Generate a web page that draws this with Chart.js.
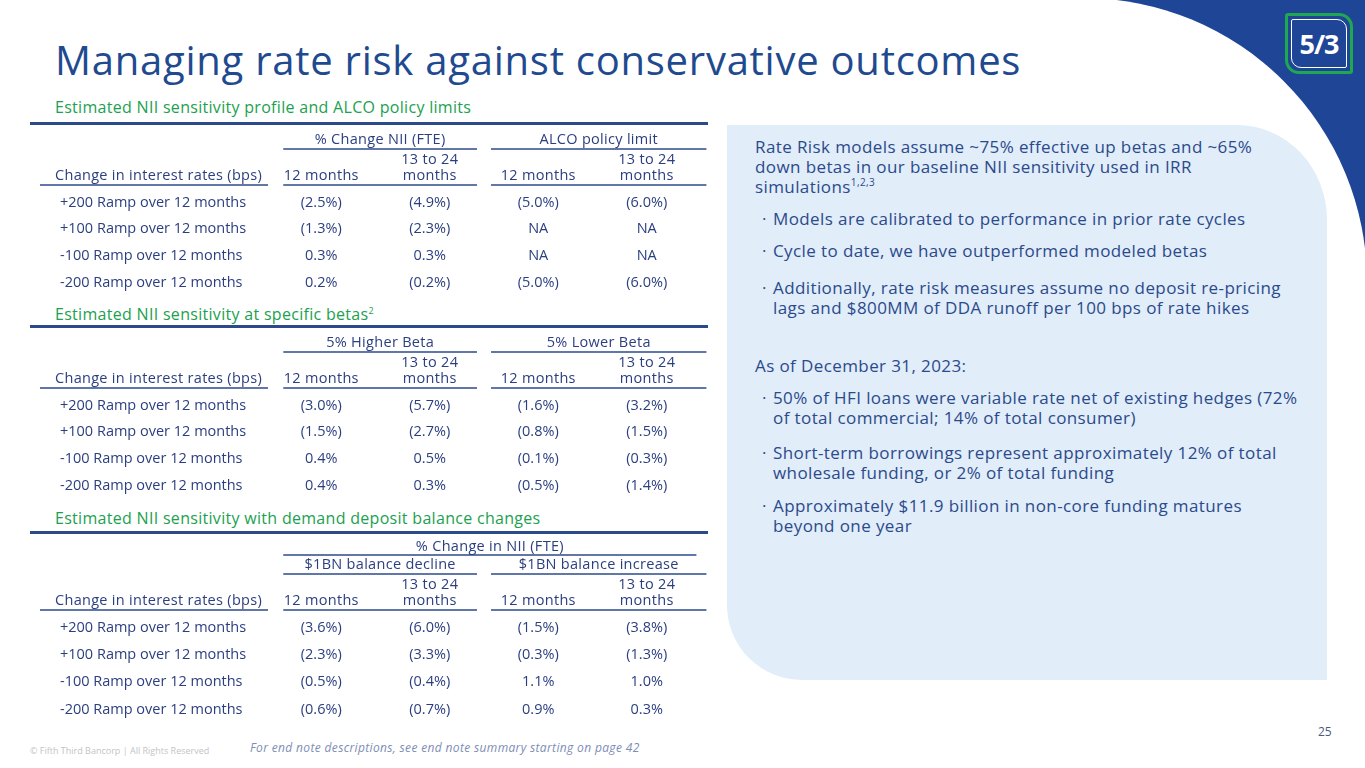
<!DOCTYPE html>
<html>
<head>
<meta charset="utf-8">
<script src="https://cdn.jsdelivr.net/npm/chart.js@4.4.1/dist/chart.umd.min.js"></script>
<style>
  html, body { margin: 0; padding: 0; background: #fff; }
  body { width: 1365px; height: 768px; position: relative; overflow: hidden; font-family: "Open Sans", sans-serif; }
  .abs { position: absolute; }
  #title { left: 55px; top: 40px; font-size: 40px; line-height: 40px; color: #1f4a8f; white-space: nowrap; letter-spacing: 0.75px; }
  .head { left: 55px; font-size: 16px; line-height: 18px; color: #1ba14f; white-space: nowrap; letter-spacing: 0.3px; }
  .head sup { font-size: 9px; }
  .rule { left: 30px; width: 678px; height: 3px; background: #2b4a8b; }
  #panel { left: 727px; top: 125px; width: 600px; height: 555px; background: #e1edf9;
           border-radius: 0 90px 0 75px / 0 95px 0 75px; }
  .ptxt { left: 755px; font-size: 17px; line-height: 20px; color: #2b4a8b; white-space: nowrap; letter-spacing: 0.4px; }
  .ptxt sup { font-size: 10px; line-height: 0; }
  .bul { left: 762px; display: flex; }
  .bul span:first-child { width: 11px; }
  #logo { left: 1285px; top: 13px; width: 62px; height: 55px; border: 3px solid #20a850; background: #1e4596;
          border-radius: 3px 14px 3px 14px; }
  #logo div { position: absolute; left: 3px; top: 3px; right: 3px; bottom: 3px; border: 1.5px solid #fff;
              border-radius: 2px 10px 2px 10px; color: #fff; font: bold 27px/47px "Open Sans"; text-align: center; letter-spacing: -1px; }
  #copy { left: 30px; top: 744px; font-size: 9px; color: #c4c4c4; white-space: nowrap; }
  #note { left: 250px; top: 739px; font-size: 12px; font-style: italic; color: #7d8db5; white-space: nowrap; letter-spacing: 0.35px; }
  #page { left: 1318px; top: 723px; font-size: 12px; color: #4a5a80; }
  canvas { position: absolute; left: 30px; }
</style>
</head>
<body>
<svg class="abs" style="left:0;top:0" width="1365" height="768">
  <rect x="1080" y="0" width="285" height="290" fill="#1e4596"/>
  <circle cx="1083" cy="282" r="284" fill="#fff"/>
</svg>
<div id="logo" class="abs"><div>5/3</div></div>
<div id="title" class="abs">Managing rate risk against conservative outcomes</div>

<div class="abs head" style="top:98px">Estimated NII sensitivity profile and ALCO policy limits</div>
<div class="abs rule" style="top:122px"></div>
<div class="abs head" style="top:302px">Estimated NII sensitivity at specific betas<sup>2</sup></div>
<div class="abs rule" style="top:325px"></div>
<div class="abs head" style="top:509px">Estimated NII sensitivity with demand deposit balance changes</div>
<div class="abs rule" style="top:531px"></div>

<canvas id="t1" width="680" height="180" style="top:125px"></canvas>
<canvas id="t2" width="680" height="180" style="top:328px"></canvas>
<canvas id="t3" width="680" height="198" style="top:534px"></canvas>

<div id="panel" class="abs"></div>
<div class="abs ptxt" style="top:137px">Rate Risk models assume ~75% effective up betas and ~65%<br>down betas in our baseline NII sensitivity used in IRR<br>simulations<sup>1,2,3</sup></div>
<div class="abs ptxt bul" style="top:209px"><span>·</span><span>Models are calibrated to performance in prior rate cycles</span></div>
<div class="abs ptxt bul" style="top:241px"><span>·</span><span>Cycle to date, we have outperformed modeled betas</span></div>
<div class="abs ptxt bul" style="top:278px"><span>·</span><span>Additionally, rate risk measures assume no deposit re-pricing<br>lags and $800MM of DDA runoff per 100 bps of rate hikes</span></div>
<div class="abs ptxt" style="top:356px">As of December 31, 2023:</div>
<div class="abs ptxt bul" style="top:388px"><span>·</span><span>50% of HFI loans were variable rate net of existing hedges (72%<br>of total commercial; 14% of total consumer)</span></div>
<div class="abs ptxt bul" style="top:443px"><span>·</span><span>Short-term borrowings represent approximately 12% of total<br>wholesale funding, or 2% of total funding</span></div>
<div class="abs ptxt bul" style="top:496px"><span>·</span><span>Approximately $11.9 billion in non-core funding matures<br>beyond one year</span></div>

<div id="copy" class="abs">© Fifth Third Bancorp | All Rights Reserved</div>
<div id="note" class="abs">For end note descriptions, see end note summary starting on page 42</div>
<div id="page" class="abs">25</div>

<script>
// rows shared by all three tables
const rateChanges = ['+200 Ramp over 12 months', '+100 Ramp over 12 months', '-100 Ramp over 12 months', '-200 Ramp over 12 months'];
const horizons = [['12 months'], ['13 to 24', 'months']];
const rowHeader = 'Change in interest rates (bps)';

// table 1: NII sensitivity profile and ALCO limits (null = NA)
const t1Groups = ['% Change NII (FTE)', 'ALCO policy limit'];
const niiMonths12 = [-2.5, -1.3, 0.3, 0.2];
const niiMonths24 = [-4.9, -2.3, 0.3, -0.2];
const alcoMonths12 = [-5.0, null, null, -5.0];
const alcoMonths24 = [-6.0, null, null, -6.0];

// table 2: specific betas
const t2Groups = ['5% Higher Beta', '5% Lower Beta'];
const higherBeta12 = [-3.0, -1.5, 0.4, 0.4];
const higherBeta24 = [-5.7, -2.7, 0.5, 0.3];
const lowerBeta12 = [-1.6, -0.8, -0.1, -0.5];
const lowerBeta24 = [-3.2, -1.5, -0.3, -1.4];

// table 3: demand deposit balance changes
const t3Top = '% Change in NII (FTE)';
const t3Groups = ['$1BN balance decline', '$1BN balance increase'];
const decline12 = [-3.6, -2.3, -0.5, -0.6];
const decline24 = [-6.0, -3.3, -0.4, -0.7];
const increase12 = [-1.5, -0.3, 1.1, 0.9];
const increase24 = [-3.8, -1.3, 1.0, 0.3];

const TXT = '#2b3f80';
const LINE = '#2b4a8b';
const FONT = '14.5px "Open Sans"';
Chart.defaults.font.family = '"Open Sans"';

function fmt(v) {
  if (v === null) return 'NA';
  return v < 0 ? '(' + Math.abs(v).toFixed(1) + '%)' : v.toFixed(1) + '%';
}

const tableText = {
  id: 'tableText',
  afterDatasetsDraw(chart, args, opts) {
    const ctx = chart.ctx, area = chart.chartArea, xs = chart.scales.x;
    const col = i => xs.getPixelForValue(i);
    const step = col(1) - col(0);
    ctx.save();
    ctx.fillStyle = TXT;
    ctx.font = FONT;
    ctx.textAlign = 'center';
    ctx.textBaseline = 'middle';
    chart.data.datasets.forEach((ds, di) => {
      chart.getDatasetMeta(di).data.forEach((pt, i) => ctx.fillText(fmt(ds.data[i].v), pt.x, pt.y));
    });

    const hline = (x1, x2, y, w) => {
      ctx.strokeStyle = LINE; ctx.lineWidth = w || 1.5;
      ctx.beginPath(); ctx.moveTo(x1, y); ctx.lineTo(x2, y); ctx.stroke();
    };
    if ('letterSpacing' in ctx) ctx.letterSpacing = '0.3px';
    const colUnder = area.top - 4;
    // column headers
    xs.getLabels().forEach((k, i) => {
      const lines = horizons[i % 2];
      lines.forEach((t, j) => ctx.fillText(t, col(i), colUnder - 9.5 - (lines.length - 1 - j) * 16));
    });
    ctx.textAlign = 'left';
    ctx.fillText(rowHeader, 25, colUnder - 9.5);
    hline(10, area.left + 1, colUnder);
    // group headers
    const mid = (col(1) + col(2)) / 2;
    const spans = [[col(0) - 0.35 * step, mid - 7], [mid + 7, col(3) + 0.55 * step]];
    spans.forEach(s => hline(s[0], s[1], colUnder));
    const gUnder = colUnder - 36;
    ctx.textAlign = 'center';
    opts.groups.forEach((g, i) => {
      const s = spans[i];
      hline(s[0], s[1], gUnder);
      ctx.fillText(g, (s[0] + s[1]) / 2, gUnder - 9);
    });
    if (opts.top) {
      const tUnder = gUnder - 19;
      hline(spans[0][0], spans[1][1] - 10, tUnder);
      ctx.fillText(opts.top, (spans[0][0] + spans[1][1] - 10) / 2, tUnder - 8);
    }
    ctx.restore();
  }
};

function makeTable(id, groups, top, series) {
  const keys = [];
  groups.forEach(g => horizons.forEach(h => keys.push(g + ' ' + h.join(' '))));
  return new Chart(document.getElementById(id), {
    type: 'scatter',
    data: {
      datasets: series.map((vals, c) => ({
        data: rateChanges.map((r, i) => ({ x: keys[c], y: r, v: vals[i] })),
        pointRadius: 0
      }))
    },
    options: {
      responsive: false,
      animation: false,
      events: [],
      layout: { padding: { top: top ? 80 : 64, left: 30, right: 9, bottom: 4 } },
      scales: {
        x: { type: 'category', labels: keys, offset: true, display: false },
        y: {
          type: 'category', labels: rateChanges, offset: true,
          grid: { display: false }, border: { display: false },
          ticks: { crossAlign: 'far', padding: 0, autoSkip: false, color: TXT, font: { size: 14.5 } },
          afterFit(s) { s.width = 207; }
        }
      },
      plugins: {
        legend: { display: false },
        tooltip: { enabled: false },
        tableText: { groups: groups, top: top }
      }
    },
    plugins: [tableText]
  });
}

makeTable('t1', t1Groups, null, [niiMonths12, niiMonths24, alcoMonths12, alcoMonths24]);
makeTable('t2', t2Groups, null, [higherBeta12, higherBeta24, lowerBeta12, lowerBeta24]);
makeTable('t3', t3Groups, t3Top, [decline12, decline24, increase12, increase24]);
</script>
</body>
</html>
